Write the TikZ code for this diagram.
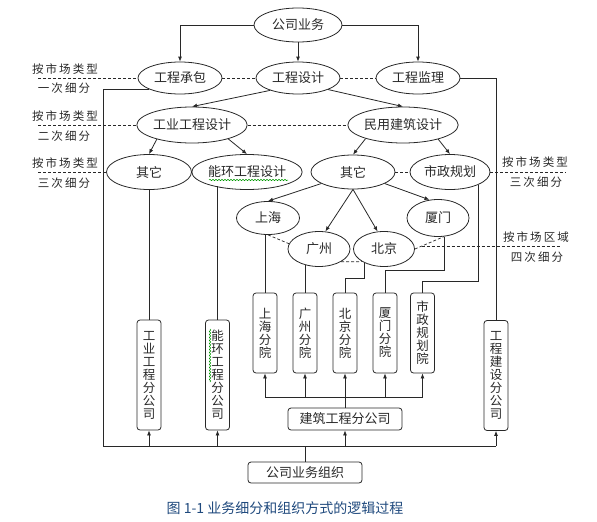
\documentclass[tikz,border=0pt]{standalone}
\usepackage{fontspec}
\newfontfamily\cjk{Noto Sans CJK SC}
\newfontfamily\cjksp[LetterSpace=18]{Noto Sans CJK SC}
\usepackage{tikz}
\usetikzlibrary{shapes.geometric,arrows.meta,decorations.pathmorphing,calc}
\definecolor{ink}{RGB}{40,40,40}
\definecolor{capblue}{RGB}{31,73,125}
\tikzset{
  oval/.style={ellipse,draw=ink,line width=0.8pt,inner sep=0pt,minimum width=84pt,minimum height=32pt,text=ink,font=\cjk\fontsize{13}{13}\selectfont},
  vbox/.style={draw=ink,line width=0.8pt,rounded corners=3pt,inner sep=0pt,minimum width=24pt,align=center,text=ink,font=\cjk\fontsize{12.5}{13}\selectfont},
  hbox/.style={draw=ink,line width=0.8pt,rounded corners=3pt,inner sep=0pt,minimum width=114pt,minimum height=22pt,text=ink,font=\cjk\fontsize{13}{13}\selectfont},
  arr/.style={draw=ink,line width=0.8pt,-{Latex[length=5pt,width=4pt]}},
  link/.style={draw=ink,line width=0.8pt},
  bus/.style={draw=ink,line width=1pt},
  gapline/.style={draw=ink,line width=0.7pt,dash pattern=on 3pt off 2pt},
  lab/.style={text=ink,font=\cjksp\fontsize{11.5}{12}\selectfont},
  squig/.style={draw=green!60!black,line width=0.5pt,decorate,decoration={snake,segment length=3pt,amplitude=0.7pt}}
}
\begin{document}
\begin{tikzpicture}[x=1pt,y=-1pt]
\useasboundingbox (0,0) rectangle (597,522);
% ellipses
\node[oval,minimum width=88pt,minimum height=34pt] (gs) at (298,25) {公司业务};
\node[oval] (cb) at (180,78) {工程承包};
\node[oval] (sj) at (298,78) {工程设计};
\node[oval] (jl) at (418,78) {工程监理};
\node[oval,minimum height=36pt] (gy) at (192,125) {工业工程设计};
\node[oval,minimum height=36pt] (my) at (403,125) {民用建筑设计};
\node[oval,minimum width=85pt,minimum height=35pt] (ql) at (149,172) {其它};
\node[oval,minimum width=85pt,minimum height=35pt] (nh) at (247,172) {能环工程设计};
\node[oval,minimum height=34pt] (qr) at (353,172) {其它};
\node[oval,minimum width=80pt,minimum height=35pt] (sz) at (450,172) {市政规划};
\node[oval,minimum width=63pt,minimum height=33pt] (sh) at (268,218) {上海};
\node[oval,minimum width=62pt,minimum height=35pt] (gz) at (319,249) {广州};
\node[oval,minimum width=61pt,minimum height=35pt] (bj) at (384,249) {北京};
\node[oval,minimum width=62pt,minimum height=37pt] (xm) at (438,218) {厦门};
% boxes
\node[vbox,minimum height=110pt] (gyf) at (149,375) {工\\业\\工\\程\\分\\公\\司};
\node[vbox,minimum height=110pt] (nhf) at (217.5,375) {能\\环\\工\\程\\分\\公\\司};
\node[vbox,minimum height=80pt] (shf) at (265,333) {上\\海\\分\\院};
\node[vbox,minimum height=80pt] (gzf) at (305,333) {广\\州\\分\\院};
\node[vbox,minimum height=80pt] (bjf) at (345,333) {北\\京\\分\\院};
\node[vbox,minimum height=80pt] (xmf) at (385,333) {厦\\门\\分\\院};
\node[vbox,minimum height=80pt] (szf) at (422.5,333) {市\\政\\规\\划\\院};
\node[vbox,minimum height=110pt] (gcf) at (496,375.5) {工\\程\\建\\设\\分\\公\\司};
\node[hbox] (jz) at (345,419) {建筑工程分公司};
\node[hbox,minimum height=21pt] (zz) at (305,472.5) {公司业务组织};
% labels
\node[lab] (l1a) at (65,69) {按市场类型};
\node[lab] (l1b) at (64,88) {一次细分};
\node[lab] (l2a) at (65,116) {按市场类型};
\node[lab] (l2b) at (64,136) {二次细分};
\node[lab] (l3a) at (65,163) {按市场类型};
\node[lab] (l3b) at (64,183) {三次细分};
\node[lab] (r3a) at (535,162) {按市场类型};
\node[lab] (r3b) at (536,182) {三次细分};
\node[lab] (r4a) at (536,237) {按市场区域};
\node[lab] (r4b) at (537,257) {四次细分};
\node[text=capblue,font=\cjk\fontsize{14}{14}\selectfont] (cap) at (285,508) {图~1-1~业务细分和组织方式的逻辑过程};
% arrows down the tree
\draw[arr] (gs.west) -| (cb.north);
\draw[arr] (gs.south) -- (sj.north);
\draw[arr] (gs.east) -| (jl.north);
\draw[arr] (sj.204) -- (gy.north);
\draw[arr] (sj.339) -- (my.north);
\draw[arr] (gy.202) -- (ql.north);
\draw[arr] (gy.339) -- (nh.north);
\draw[arr] (my.200) -- (qr.north);
\draw[arr] (my.338) -- (sz.north);
\draw[arr] (qr.200) -- (sh.north);
\draw[arr] (qr.south) -- (gz.70);
\draw[arr] (qr.south) -- (bj.110);
\draw[arr] (qr.340) -- (xm.115);
% dashed rows
\draw[gapline] (38,78) -- (cb.west);
\draw[gapline] (cb.east) -- (sj.west);
\draw[gapline] (sj.east) -- (jl.west);
\draw[gapline] (38,125) -- (gy.west);
\draw[gapline] (gy.east) -- (my.west);
\draw[gapline] (38,172) -- (ql.west);
\draw[gapline] (ql.east) -- (nh.west);
\draw[gapline] (qr.east) -- (sz.west);
\draw[gapline] (sz.east) -- (566,172);
\draw[gapline] (sh.south) -- (gz.170);
\draw[gapline] (gz.-30) -- (bj.-150);
\draw[gapline] (bj.east) -- (xm.-72);
\coordinate (qy) at ($(bj.east)!0.234!(xm.-72)$);
\coordinate (r4) at (560,246);
\draw[gapline] (qy) -- (qy -| r4);
% lines down to the offices
\draw[link] (ql.south) -- (gyf.north);
\draw[link] (nhf.north) -- (nhf.north |- nh.202.5);
\draw[link] (shf.north) -- (shf.north |- sh.south);
\draw[link] (gzf.north) -- (gzf.north |- gz.228);
\coordinate (bjk) at (345,278);
\draw[link] (bj.216) |- (bjk) -- (bjf.north);
\coordinate (xmk) at (385,270);
\draw[link] (xm.-72) |- (xmk) -- (xmf.north);
\coordinate (szk) at (422.5,281);
\draw[link] (sz.-24) |- (szk) -- (szf.north);
\draw[link] (jl.east) -| (gcf.north);
% organisation
\coordinate (busL) at (103,446);
\coordinate (busR) at (496,446);
\coordinate (sbus) at (345,397);
\draw[bus] (cb.200) -| (busL) -- (busR);
\draw[bus] (zz.north) -- (zz.north |- busL);
\draw[arr] (gyf.south |- busL) -- (gyf.south);
\draw[arr] (nhf.south |- busL) -- (nhf.south);
\draw[arr] (jz.south |- busL) -- (jz.south);
\draw[arr] (busR) -- (gcf.south);
\draw[bus] (jz.north) -- (sbus);
\draw[bus] (shf.south |- sbus) -- (szf.south |- sbus);
\foreach \b in {shf,gzf,bjf,xmf,szf}
  \draw[arr] (\b.south |- sbus) -- (\b.south);
% spell-check marks
\draw[squig] (209,180) -- (288,180);
\draw[squig] (210,329) -- (210,382);
\end{tikzpicture}
\end{document}
